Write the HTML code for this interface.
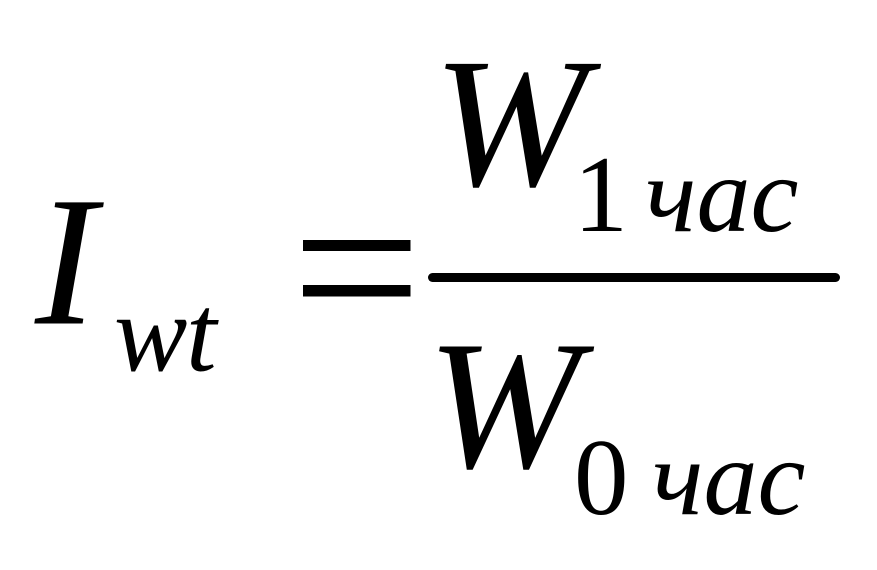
<!DOCTYPE html>
<html>
<head>
<meta charset="utf-8">
<style>
html,body{margin:0;padding:0;background:#fff;}
svg{display:block;}
text{font-family:"Liberation Serif",serif;fill:#000;}
.i{font-style:italic;}
</style>
</head>
<body>
<svg width="877" height="570" viewBox="0 0 877 570" xmlns="http://www.w3.org/2000/svg">
<rect width="877" height="570" fill="#fff"/>
<text class="i" x="35" y="323.5" font-size="185">I</text>
<text class="i" x="114" y="370.500" font-size="110">w</text>
<text class="i" x="186" y="370.500" font-size="110">t</text>
<rect x="303" y="240" width="107.500" height="11" fill="#000"/>
<rect x="303" y="285" width="107.500" height="11.500" fill="#000"/>
<text class="i" x="433" y="185" font-size="185">W</text>
<text x="573.500" y="231" font-size="109">1</text>
<text class="i" x="645" y="231" font-size="108">час</text>
<rect x="428" y="273" width="412" height="9" rx="4.500" fill="#000"/>
<text class="i" x="427" y="467" font-size="184">W</text>
<text x="574" y="514" font-size="109">0</text>
<text class="i" x="652" y="514" font-size="108">час</text>
</svg>
</body>
</html>
